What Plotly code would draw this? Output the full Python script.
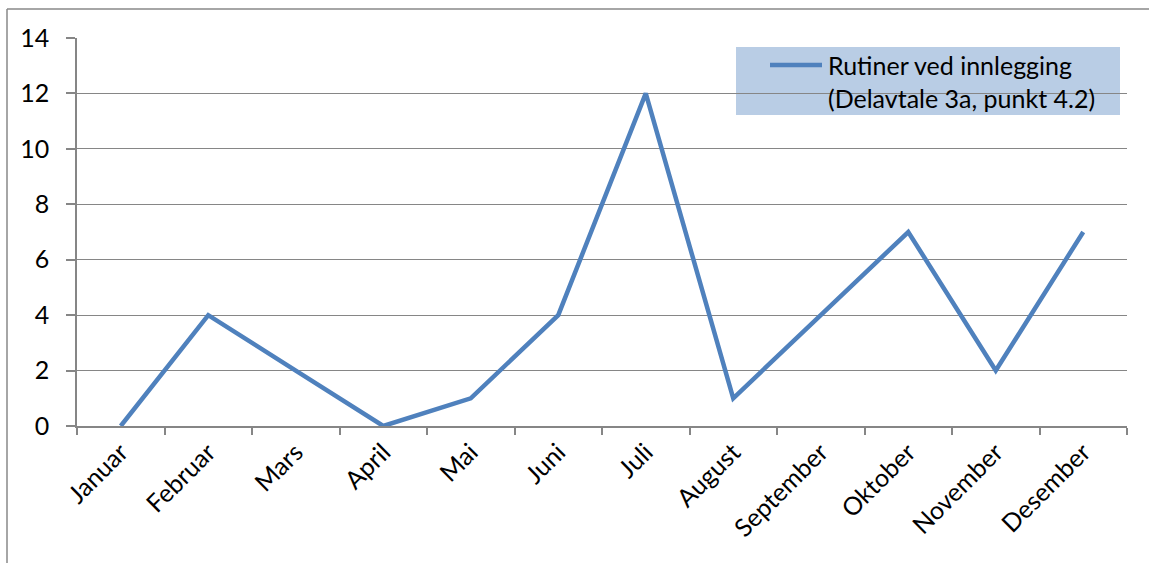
import plotly.graph_objects as go

months = ["Januar", "Februar", "Mars", "April", "Mai", "Juni", "Juli",
          "August", "September", "Oktober", "November", "Desember"]
values = [0, 4, 2, 0, 1, 4, 12, 1, 4, 7, 2, 7]
series_name = "Rutiner ved innlegging<br>(Delavtale 3a, punkt 4.2)"

W, H = 1149, 563
L, R, T, B = 77, 22, 38, 137
pw, ph = W - L - R, H - T - B

def px_x(x):
    return (x - L) / pw

def px_y(y):
    return (H - B - y) / ph

FONT = "Lato"
FS = 25
GRID = "#868686"
LINE_COLOR = "#4F81BD"

fig = go.Figure()
fig.add_trace(go.Scatter(
    x=months, y=values, mode="lines", name=series_name,
    line=dict(color=LINE_COLOR, width=4.5), showlegend=False,
))

fig.update_layout(
    width=W, height=H,
    margin=dict(l=L, r=R, t=T, b=B, pad=0),
    paper_bgcolor="white", plot_bgcolor="white",
    font=dict(family=FONT, size=FS, color="black"),
    showlegend=False,
    xaxis=dict(
        type="category", range=[-0.5, 11.5],
        showgrid=False, showline=True, linecolor=GRID, linewidth=1.5,
        ticks="outside", ticklen=7, tickcolor=GRID, tickwidth=1.5,
        tickson="boundaries", tickangle=-45,
        tickfont=dict(family=FONT, size=FS),
    ),
    yaxis=dict(
        range=[0, 14], dtick=2, tick0=0,
        showgrid=True, gridcolor=GRID, gridwidth=1.2,
        showline=True, linecolor=GRID, linewidth=1.5,
        ticks="outside", ticklen=9, tickcolor=GRID, tickwidth=1.5,
        zeroline=False, ticklabelstandoff=12,
        tickfont=dict(family=FONT, size=FS),
    ),
    shapes=[
        # legend background
        dict(type="rect", xref="paper", yref="paper", layer="below",
             x0=px_x(736), x1=px_x(1120), y0=px_y(115), y1=px_y(47),
             fillcolor="#B9CDE5", line=dict(width=0)),
        # legend line sample
        dict(type="line", xref="paper", yref="paper", layer="above",
             x0=px_x(770), x1=px_x(822), y0=px_y(65), y1=px_y(65),
             line=dict(color=LINE_COLOR, width=4.5)),
        # chart area border (top and left)
        dict(type="line", xref="paper", yref="paper",
             x0=px_x(7), x1=px_x(1160), y0=px_y(9), y1=px_y(9),
             line=dict(color="#898989", width=1.5)),
        dict(type="line", xref="paper", yref="paper",
             x0=px_x(7), x1=px_x(7), y0=px_y(9), y1=px_y(580),
             line=dict(color="#898989", width=1.5)),
    ],
    annotations=[
        dict(xref="paper", yref="paper", x=px_x(826), y=px_y(81),
             xanchor="left", yanchor="middle", align="left",
             text=series_name, showarrow=False,
             font=dict(family=FONT, size=FS, color="black")),
    ],
)

fig.write_html("out.html")
